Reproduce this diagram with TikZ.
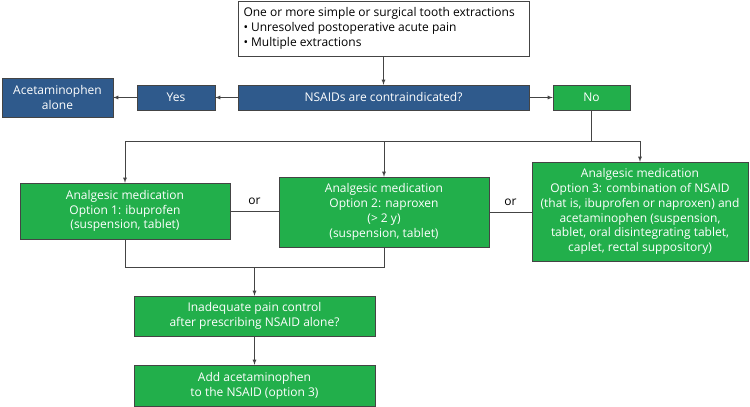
\documentclass[tikz,border=0pt]{standalone}
\usepackage{fontspec}
\setmainfont{Open Sans}
\usetikzlibrary{arrows}
\definecolor{nsaidblue}{HTML}{2F5A8C}
\definecolor{optgreen}{HTML}{22AF4B}
\definecolor{edgegray}{HTML}{444444}

\tikzset{
  bluebox/.style={draw=edgegray, fill=nsaidblue, text=white, align=center, inner sep=2pt},
  greenbox/.style={draw=edgegray, fill=optgreen, text=white, align=center, inner sep=2pt},
  flow/.style={draw=edgegray, thick, -latex},
  link/.style={draw=edgegray, thick}
}

\begin{document}
\begin{tikzpicture}[x=1pt, y=-1pt, font=\fontsize{12}{14.8}\selectfont]
      \useasboundingbox (0,0) rectangle (750,407);

      % Starting situation
      \node[draw=edgegray, fill=white, align=flush left, inner xsep=5.5pt, minimum height=55pt, text width=280pt] (start) at (383.5,28.5)
        {One or more simple or surgical tooth extractions\\
         \textbullet\ Unresolved postoperative acute pain\\
         \textbullet\ Multiple extractions};

      % The contraindication question and its answers
      \node[bluebox, minimum width=291pt, minimum height=25pt] (nsaid) at (383.5,97.5) {NSAIDs are contraindicated?};
      \node[bluebox, minimum width=78pt, minimum height=25pt] (yes) at (176,97.5) {Yes};
      \node[bluebox, minimum width=111pt, minimum height=39pt] (acet) at (57.5,97.5) {Acetaminophen\\alone};
      \node[greenbox, minimum width=77pt, minimum height=25pt] (no) at (591.5,97.5) {No};

      % The three analgesic options
      \node[greenbox, minimum width=210pt, minimum height=56pt] (opt1) at (125,211)
        {Analgesic medication\\Option 1: ibuprofen\\(suspension, tablet)};
      \node[greenbox, minimum width=210pt, minimum height=70pt] (opt2) at (384,212)
        {Analgesic medication\\Option 2: naproxen\\(> 2 y)\\(suspension, tablet)};
      \node[greenbox, minimum width=216pt, minimum height=99pt] (opt3) at (640,211.5)
        {Analgesic medication\\Option 3: combination of NSAID\\(that is, ibuprofen or naproxen) and\\acetaminophen (suspension,\\tablet, oral disintegrating tablet,\\caplet, rectal suppository)};

      % Follow-up
      \node[greenbox, minimum width=241pt, minimum height=40pt] (inad) at (254.5,316)
        {Inadequate pain control\\after prescribing NSAID alone?};
      \node[greenbox, minimum width=241pt, minimum height=41pt] (add) at (254.5,385.5)
        {Add acetaminophen\\to the NSAID (option 3)};

      % Branch and join points
      \coordinate (split) at (591.5,141);
      \coordinate (join) at (254.5,267);

      % Connectors
      \draw[flow] (start) -- (nsaid);
      \draw[flow] (nsaid) -- (yes);
      \draw[flow] (yes) -- (acet);
      \draw[flow] (nsaid) -- (no);
      \draw[link] (no) -- (split);
      \draw[flow] (split) -| (opt1);
      \draw[flow] (split) -| (opt2);
      \draw[flow] (split) -| (opt3);

      \draw[link] (opt1) -- node[above=3pt] {or} (opt1 -| opt2.west);
      \draw[link] (opt2) -- node[above=3pt] {or} (opt2 -| opt3.west);

      \draw[link] (opt1.south) |- (join);
      \draw[link] (opt2.south) |- (join);
      \draw[flow] (join) -- (inad);
      \draw[flow] (inad) -- (add);
    \end{tikzpicture}
\end{document}
